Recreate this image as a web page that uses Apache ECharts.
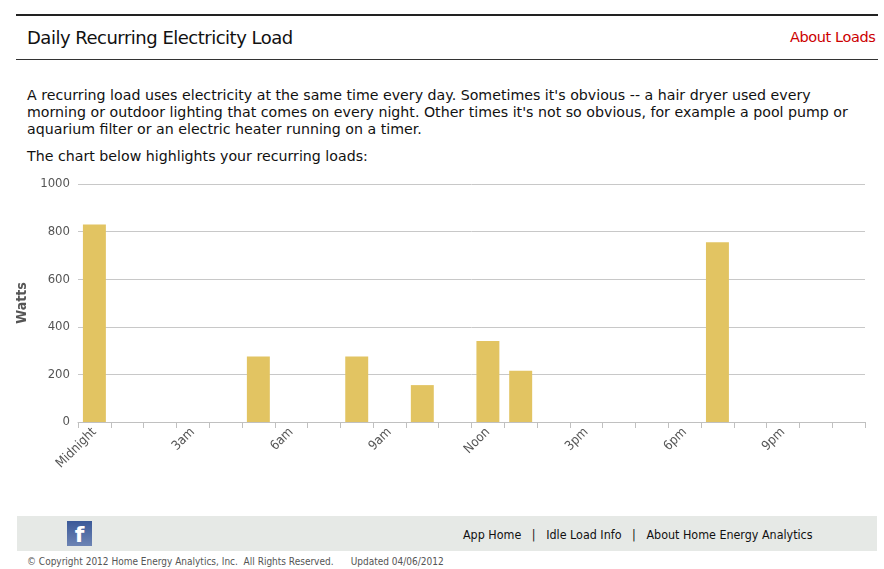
<!DOCTYPE html>
<html><head><meta charset="utf-8">
<script src="https://cdn.jsdelivr.net/npm/echarts@6/dist/echarts.min.js"></script>
<style>
body{margin:0;width:884px;height:569px;position:relative;font-family:"DejaVu Sans",sans-serif;background:#fff;overflow:hidden}
.abs{position:absolute}
</style></head><body>
<div class="abs" style="left:16px;top:14px;width:862px;border-top:2px solid #222"></div>
<div class="abs" style="left:27px;top:27px;font-size:18px;color:#111;font-family:'DejaVu Sans',sans-serif;letter-spacing:-0.5px">Daily Recurring Electricity Load</div>
<div class="abs" style="left:790px;top:29px;font-size:14.5px;color:#c00;font-family:'DejaVu Sans',sans-serif;letter-spacing:-0.4px">About Loads</div>
<div class="abs" style="left:16px;top:59px;width:862px;border-top:1px solid #333"></div>
<div class="abs" style="left:27px;top:87px;width:835px;font-size:14.2px;line-height:17px;color:#111">A recurring load uses electricity at the same time every day. Sometimes it's obvious -- a hair dryer used every morning or outdoor lighting that comes on every night. Other times it's not so obvious, for example a pool pump or aquarium filter or an electric heater running on a timer.</div>
<div class="abs" style="left:27px;top:148px;font-size:14.2px;color:#111">The chart below highlights your recurring loads:</div>
<div id="c" class="abs" style="left:0;top:170px;width:884px;height:330px"></div>
<div class="abs" style="left:17px;top:516px;width:860px;height:35px;background:#e6e9e6"></div>
<div class="abs" style="left:67px;top:521px;width:25px;height:25px;background:linear-gradient(#3b5998,#6d84b4);color:#fff;font:bold 22px 'DejaVu Sans';text-align:center;line-height:28px">f</div>
<div class="abs" style="left:463px;top:527px;font-size:12.4px;color:#111;font-family:'DejaVu Sans Condensed',sans-serif;white-space:pre">App Home   |   Idle Load Info   |   About Home Energy Analytics</div>
<div class="abs" style="left:27px;top:556px;font-size:10px;color:#555;font-family:'DejaVu Sans Condensed',sans-serif;white-space:pre">© Copyright 2012 Home Energy Analytics, Inc.  All Rights Reserved.      Updated 04/06/2012</div>
<script>
const hours = ["Midnight","1am","2am","3am","4am","5am","6am","7am","8am","9am","10am","11am","Noon","1pm","2pm","3pm","4pm","5pm","6pm","7pm","8pm","9pm","10pm","11pm"];
const watts = [830,0,0,0,0,275,0,0,275,0,155,0,340,215,0,0,0,0,0,755,0,0,0,0];
const yTicks = [0,200,400,600,800,1000];
const chart = echarts.init(document.getElementById('c'));
chart.setOption({
  animation:false,
  grid:{left:78,right:19,top:14,bottom:78},
  xAxis:{type:'category',data:hours,
    axisLine:{lineStyle:{color:'#c0c0c0'}},
    axisTick:{show:true,interval:0,length:6,lineStyle:{color:'#c0c0c0'}},
    axisLabel:{interval:2,rotate:45,color:'#555',fontSize:13,fontFamily:'DejaVu Sans Condensed',margin:8}},
  yAxis:{type:'value',min:yTicks[0],max:yTicks[yTicks.length-1],interval:200,
    name:'Watts',nameLocation:'middle',nameGap:48,nameTextStyle:{fontSize:14,color:'#555',fontWeight:'bold',fontFamily:'DejaVu Sans Condensed'},
    axisLabel:{color:'#555',fontSize:13,fontFamily:'DejaVu Sans Condensed',formatter:v=>String(v)},
    splitLine:{lineStyle:{color:'#c8c8c8'}},axisLine:{show:false},axisTick:{show:false}},
  series:[{type:'bar',data:watts,barWidth:'70%',itemStyle:{color:'#e2c462'}}]
});
</script>
</body></html>
